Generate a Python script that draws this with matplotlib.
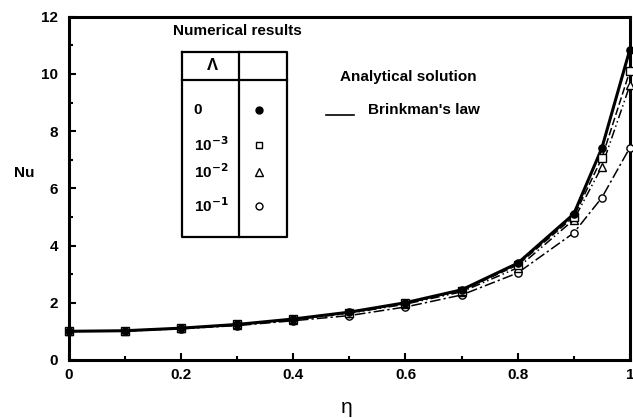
import numpy as np
from matplotlib import pyplot as plt
from matplotlib.ticker import MultipleLocator

plt.rcParams['font.family'] = ['Liberation Sans', 'DejaVu Sans']
plt.rcParams['font.weight'] = 'bold'
plt.rcParams['mathtext.default'] = 'bf'

# eta positions of the computed points
eta = [0, 0.1, 0.2, 0.3, 0.4, 0.5, 0.6, 0.7, 0.8, 0.9, 0.95, 1.0]

# Nu for each Lambda
nu_0 = [1.0, 1.02, 1.11, 1.24, 1.43, 1.67, 2.0, 2.45, 3.38, 5.1, 7.4, 10.85]
nu_1e3 = [1.0, 1.02, 1.11, 1.24, 1.42, 1.65, 1.98, 2.42, 3.32, 5.0, 7.05, 10.1]
nu_1e2 = [1.0, 1.02, 1.10, 1.23, 1.41, 1.63, 1.95, 2.38, 3.22, 4.9, 6.75, 9.6]
nu_1e1 = [1.0, 1.01, 1.09, 1.2, 1.37, 1.55, 1.85, 2.27, 3.04, 4.44, 5.67, 7.42]

lambda_labels = ['0', r'10$^{-3}$', r'10$^{-2}$', r'10$^{-1}$']
x_ticks = [0, 0.2, 0.4, 0.6, 0.8, 1]
x_tick_labels = ['0', '0.2', '0.4', '0.6', '0.8', '1']
y_ticks = [0, 2, 4, 6, 8, 10, 12]

fig = plt.figure(figsize=(6.33, 4.18), dpi=100)
ax = fig.add_axes([0.109, 0.139, 0.886, 0.821])

series = [
    (nu_0, '-', 2.2, 'o', 'k'),
    (nu_1e3, (0, (5, 2)), 1.1, 's', 'w'),
    (nu_1e2, (0, (6, 2, 1, 2, 1, 2)), 1.1, '^', 'w'),
    (nu_1e1, (0, (7, 2, 1.5, 2)), 1.1, 'o', 'w'),
]
for vals, ls, lw, mk, fc in series:
    ax.plot(eta, vals, color='k', ls=ls, lw=lw, zorder=2, clip_on=False)
for vals, ls, lw, mk, fc in reversed(series):
    ax.plot(eta, vals, ls='none', marker=mk, ms=5.2, mfc=fc, mec='k', mew=1.0,
            zorder=3, clip_on=False)

ax.set_xlim(0, 1)
ax.set_ylim(0, 12)
ax.set_xticks(x_ticks)
ax.set_xticklabels(x_tick_labels)
ax.set_yticks(y_ticks)
ax.xaxis.set_minor_locator(MultipleLocator(0.1))
ax.yaxis.set_minor_locator(MultipleLocator(1))
ax.tick_params(which='both', direction='in', top=False, right=False, labelsize=11, width=1.5)
ax.tick_params(which='major', length=5)
ax.tick_params(which='minor', length=3)
ax.tick_params(axis='x', pad=6)
ax.tick_params(axis='y', pad=8)
for lab in ax.get_xticklabels() + ax.get_yticklabels():
    lab.set_fontweight('bold')
for sp in ax.spines.values():
    sp.set_linewidth(2.2)

ax.set_xlabel('η', fontsize=15)
ax.xaxis.set_label_coords(0.496, -0.14)
ax.xaxis.label.set_va('center')
ax.set_ylabel('Nu', fontsize=11, fontweight='bold', rotation=0)
ax.yaxis.set_label_coords(-0.080, 0.545)
ax.yaxis.label.set_va('center')
ax.yaxis.label.set_ha('center')

# legend table drawn by hand
tl, tdiv, tr = 0.201, 0.303, 0.389
ttop, thead, tbot = 10.78, 9.80, 4.30
ax.plot([tl, tr, tr, tl, tl], [ttop, ttop, tbot, tbot, ttop], color='k', lw=1.6, zorder=4)
ax.plot([tl, tr], [thead, thead], color='k', lw=1.6, zorder=4)
ax.plot([tdiv, tdiv], [ttop, tbot], color='k', lw=1.6, zorder=4)
ax.text(0.185, 11.5, 'Numerical results', ha='left', va='center', fontsize=11, fontweight='bold')
ax.text(0.256, 10.3, 'Λ', ha='center', va='center', fontsize=12, fontweight='bold')
row_y = [8.75, 7.52, 6.58, 5.39]
row_marks = [('o', 'k', 5.0), ('s', 'w', 4.6), ('^', 'w', 5.2), ('o', 'w', 5.0)]
for lab, yy, (mk, fc, ms) in zip(lambda_labels, row_y, row_marks):
    ax.text(0.222, yy, lab, ha='left', va='center', fontsize=11, fontweight='bold')
    ax.plot([0.339], [yy], ls='none', marker=mk, ms=ms, mfc=fc, mec='k', mew=1.0)

ax.text(0.483, 9.9, 'Analytical solution', ha='left', va='center', fontsize=11, fontweight='bold')
ax.plot([0.458, 0.508], [8.57, 8.57], color='k', lw=1.2)
ax.text(0.533, 8.75, "Brinkman's law", ha='left', va='center', fontsize=11, fontweight='bold')

fig.savefig('out.png', dpi=100)
